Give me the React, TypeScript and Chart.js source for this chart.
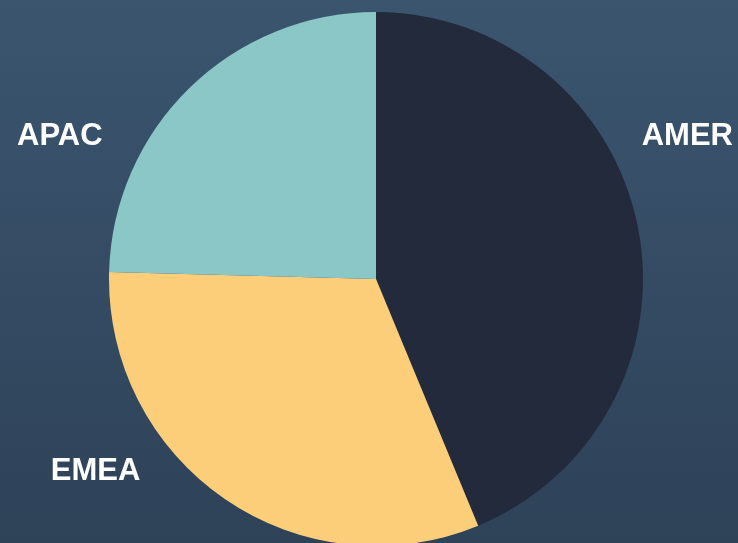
import React, { useEffect, useRef } from "react";
import { Chart, registerables } from "chart.js";

Chart.register(...registerables);

const regions = ["AMER", "EMEA", "APAC"];
const revenue = [525, 380, 295];
const sliceColors = ["#222a3c", "#fdce7a", "#8cc7c7"];

// label anchor (fraction of canvas, alphabetic baseline) and alignment
const labelPlacement: Record<string, { fx: number; fy: number; align: CanvasTextAlign }> = {
  AMER: { fx: 733 / 738, fy: 144.5 / 558, align: "right" },
  EMEA: { fx: 50.7 / 738, fy: 479.5 / 558, align: "left" },
  APAC: { fx: 17 / 738, fy: 144.5 / 558, align: "left" },
};

const labelPlugin = {
  id: "outerLabels",
  afterDatasetsDraw(chart: any) {
    const { ctx, width, height } = chart;
    const labels: string[] = chart.data.labels;
    ctx.save();
    ctx.fillStyle = "#ffffff";
    ctx.font = "bold 31px 'Liberation Sans', Arial, sans-serif";
    ctx.textBaseline = "alphabetic";
    labels.forEach((lab) => {
      const p = labelPlacement[lab];
      if (!p) return;
      ctx.textAlign = p.align;
      ctx.fillText(lab, p.fx * width, p.fy * height);
    });
    ctx.restore();
  },
};

export default function App() {
  const ref = useRef<HTMLCanvasElement | null>(null);
  useEffect(() => {
    document.body.style.margin = "0";
    if (!ref.current) return;
    const chart = new Chart(ref.current, {
      type: "pie",
      data: {
        labels: regions,
        datasets: [
          {
            data: revenue,
            backgroundColor: sliceColors,
            borderWidth: 0,
          },
        ],
      },
      options: {
        animation: false,
        responsive: false,
        maintainAspectRatio: false,
        layout: { padding: { top: 12, bottom: 12, left: 14, right: 0 } },
        plugins: {
          legend: { display: false },
          tooltip: { enabled: false },
        },
      },
      plugins: [labelPlugin],
    });
    return () => chart.destroy();
  }, []);
  return (
    <div
      style={{
        position: "fixed",
        left: 0,
        top: 0,
        width: 738,
        height: 543,
        overflow: "hidden",
        background: "linear-gradient(to bottom, #3b556f 0%, #2e4258 100%)",
      }}
    >
      <canvas ref={ref} width={738} height={558} style={{ display: "block", width: 738, height: 558 }} />
    </div>
  );
}
